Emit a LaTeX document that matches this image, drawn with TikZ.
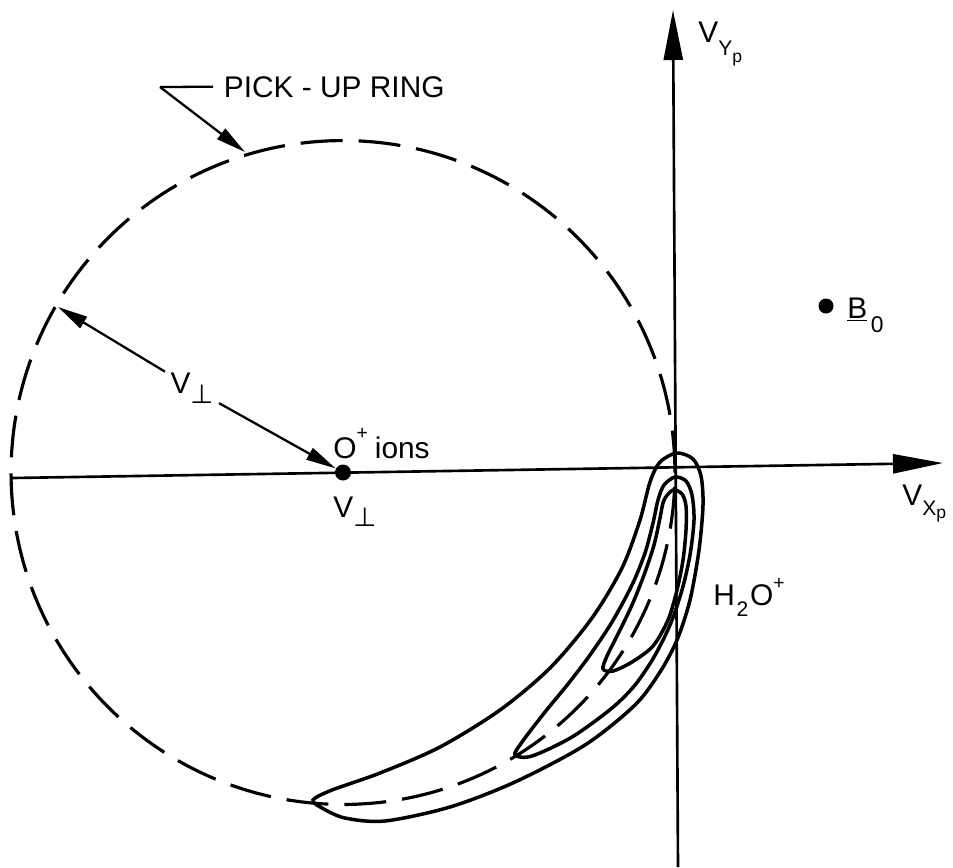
\documentclass[tikz,border=0pt]{standalone}
\usepackage{fontspec}
\setmainfont{Liberation Sans}
\newfontfamily\symfont{DejaVu Sans}
\usepackage{tikz}
\usetikzlibrary{arrows.meta}

\begin{document}
\begin{tikzpicture}[
    x=0.02cm, y=-0.02cm,
    lbl/.style={font=\fontsize{17}{20}\selectfont, inner sep=0pt, anchor=base west},
    axisline/.style={line width=1.5pt, -{Triangle[length=1cm, width=0.38cm]}},
    arr/.style={line width=1.3pt, -{Triangle[length=0.6cm, width=0.26cm]}},
    leader/.style={line width=1.3pt},
    pickring/.style={line width=1.8pt, dash pattern=on 0.84cm off 0.32cm},
    lobe/.style={line width=2pt},
    spot/.style={circle, fill=black, inner sep=0pt},
  ]
  \useasboundingbox (0,0) rectangle (953,867);

  % --- axes ---
  \coordinate (xl) at (12,478);
  \coordinate (xr) at (943,463);
  \coordinate (yb) at (678,867);
  \coordinate (yt) at (673,10);
  \draw[axisline] (xl) -- (xr);
  \draw[axisline] (yb) -- (yt);
  \node[lbl] (vyp) at (698,42)
    {V\raisebox{-7.4pt}{\fontsize{12}{14}\selectfont Y\raisebox{-4pt}{\fontsize{10}{12}\selectfont p}}};
  \node[lbl] (vxp) at (902,505)
    {V\raisebox{-5.7pt}{\fontsize{12}{14}\selectfont X\raisebox{-2pt}{\fontsize{10}{12}\selectfont p}}};

  % --- pick-up ring ---
  \draw[pickring] (343,472.5) circle[radius=6.64cm];
  \node[spot, minimum size=0.32cm] (odot) at (343,472.5) {};
  \coordinate (rimv) at (58,307);
  \coordinate (rimp) at (245,152);
  \coordinate (bend) at (160,87);
  \node[lbl, inner xsep=6pt] (pickup) at (213,97) {PICK - UP RING};
  \draw[leader] (pickup.west) -- (bend);
  \draw[arr] (bend) -- (rimp);

  % --- radius ---
  \node[lbl, anchor=center, inner sep=3pt] (vperp) at (192,388)
    {V\raisebox{-5.5pt}{\fontsize{15}{17}\symfont ⊥}};
  \draw[arr] (vperp) -- (rimv);
  \draw[arr] (vperp) -- (odot);
  \node[lbl] (oions) at (333,458)
    {O\raisebox{10.8pt}{\fontsize{11}{12}\selectfont +}\hspace{4pt}ions};
  \node[lbl] (vlow) at (333,517)
    {V\raisebox{-5.5pt}{\fontsize{15}{17}\symfont ⊥}};

  % --- field ---
  \node[spot, minimum size=0.3cm] (bdot) at (826,306) {};
  \node[lbl] (bzero) at (847,318)
    {\underline{B}\hspace{2pt}\raisebox{-8.5pt}{\fontsize{13}{15}\selectfont 0}};

  % --- H2O+ contours ---
  \draw[lobe] plot[smooth cycle] coordinates {
    (313,800) (332,790) (380,773) (440,747) (500,710) (550,668) (592,618)
    (622,568) (640,520) (650,482) (660,462) (677,453) (693,459) (701,476)
    (703,505) (699,550) (690,600) (677,640) (660,672) (635,705) (585,745)
    (515,782) (450,807) (385,821) (345,818) (322,808)};
  \draw[lobe] plot[smooth cycle] coordinates {
    (515,755) (522,742) (545,712) (568,684) (590,655) (612,622) (632,585)
    (645,553) (653,523) (658,500) (664,485) (675,477) (686,481) (692,495)
    (694,520) (690,555) (682,590) (670,625) (654,657) (635,685) (612,708)
    (572,737) (532,756)};
  \draw[lobe] plot[smooth cycle] coordinates {
    (603,669) (607,656) (618,634) (632,605) (644,575) (654,545) (660,518)
    (664,500) (673,490) (682,494) (686,506) (686,530) (683,560) (677,590)
    (668,620) (653,646) (632,662) (613,671)};
  \node[lbl] (water) at (713,605)
    {H\hspace{1pt}\raisebox{-6.8pt}{\fontsize{12}{14}\selectfont 2}\hspace{1pt}O\raisebox{8.6pt}{\fontsize{11}{12}\selectfont +}};
\end{tikzpicture}
\end{document}
